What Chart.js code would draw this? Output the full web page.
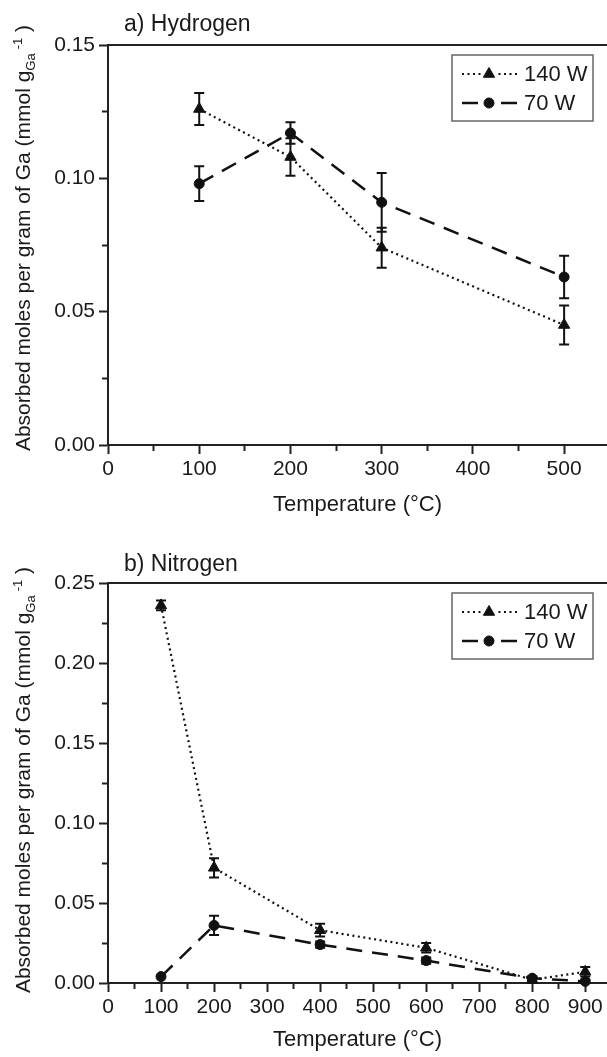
<!DOCTYPE html>
<html>
<head>
<meta charset="utf-8">
<script src="https://cdn.jsdelivr.net/npm/chart.js@4.4.1/dist/chart.umd.min.js"></script>
<style>
  html, body { margin: 0; padding: 0; background: #fff; overflow: hidden; }
  #page { position: relative; width: 607px; height: 1057px; overflow: hidden; font-family: "Liberation Sans", Arial, sans-serif; color: #1a1a1a; }
  .panel { position: absolute; left: 0; width: 607px; }
  .panel canvas { display: block; }
  .ptitle { position: absolute; left: 124px; font-size: 23px; line-height: 23px; white-space: nowrap; }
  .ytitle { position: absolute; left: 22px; font-size: 21px; line-height: 21px; white-space: nowrap; transform: translate(-50%, -50%) rotate(-90deg); }
  .ytitle sub, .ytitle sup { font-size: 13px; line-height: 0; }
  .ytitle sup { margin-left: 4px; }
</style>
</head>
<body>
<div id="page">
  <div class="panel" style="top:0;height:525px"><canvas id="hydrogenChart"></canvas></div>
  <div class="panel" style="top:525px;height:532px"><canvas id="nitrogenChart"></canvas></div>
  <div class="ptitle" style="top:12px">a) Hydrogen</div>
  <div class="ptitle" style="top:552px">b) Nitrogen</div>
  <div class="ytitle" style="top:238px">Absorbed moles per gram of Ga (mmol g<sub>Ga</sub><sup>-1</sup> )</div>
  <div class="ytitle" style="top:780px">Absorbed moles per gram of Ga (mmol g<sub>Ga</sub><sup>-1</sup> )</div>
</div>
<script>
const seriesLabels = ["140 W", "70 W"];
const xTitle = "Temperature (°C)";

// a) Hydrogen
const tempH = [100, 200, 300, 500];
const h140 = [0.126, 0.108, 0.074, 0.045];
const h140Err = [0.006, 0.007, 0.0075, 0.0073];
const h70 = [0.098, 0.117, 0.091, 0.063];
const h70Err = [0.0065, 0.004, 0.011, 0.008];

// b) Nitrogen
const tempN = [100, 200, 400, 600, 800, 900];
const n140 = [0.236, 0.072, 0.033, 0.022, 0.002, 0.007];
const n140Err = [0.003, 0.006, 0.004, 0.003, 0.002, 0.003];
const n70 = [0.004, 0.036, 0.024, 0.014, 0.003, 0.001];
const n70Err = [0, 0.006, 0.002, 0.002, 0.001, 0.001];

const INK = "#1a1a1a";
const FONT = '"Liberation Sans", Arial, sans-serif';

const errorBars = {
  id: "errorBars",
  afterDatasetsDraw(chart) {
    const ctx = chart.ctx;
    const xs = chart.scales.x, ys = chart.scales.y;
    ctx.save();
    ctx.strokeStyle = "#111";
    ctx.lineWidth = 2;
    ctx.setLineDash([]);
    chart.data.datasets.forEach(ds => {
      ds.data.forEach((p, i) => {
        const e = ds.errors[i];
        if (!e) return;
        const x = xs.getPixelForValue(p.x);
        const y1 = ys.getPixelForValue(p.y + e);
        const y2 = ys.getPixelForValue(p.y - e);
        ctx.beginPath();
        ctx.moveTo(x, y1); ctx.lineTo(x, y2);
        ctx.moveTo(x - 5, y1); ctx.lineTo(x + 5, y1);
        ctx.moveTo(x - 5, y2); ctx.lineTo(x + 5, y2);
        ctx.stroke();
      });
    });
    ctx.restore();
  }
};

// boxed legend in the top right corner, line sample on both sides of the marker
const boxLegend = {
  id: "boxLegend",
  afterDraw(chart) {
    const ctx = chart.ctx, area = chart.chartArea;
    const w = 141, h = 66;
    const left = area.right - 14 - w, top = area.top + 10;
    ctx.save();
    ctx.strokeStyle = "#666";
    ctx.lineWidth = 1.5;
    ctx.strokeRect(left, top, w, h);
    chart.data.datasets.forEach((ds, i) => {
      const y = top + 19 + i * 29;
      const mid = left + 37;
      ctx.strokeStyle = ds.borderColor;
      ctx.lineWidth = ds.borderWidth;
      ctx.setLineDash(ds.borderDash);
      ctx.beginPath();
      ctx.moveTo(left + 10, y);
      ctx.lineTo(mid - 6, y);
      ctx.stroke();
      ctx.beginPath();
      ctx.moveTo(left + 65, y);
      ctx.lineTo(mid + 6, y);
      ctx.stroke();
      ctx.setLineDash([]);
      ctx.fillStyle = ds.backgroundColor;
      ctx.lineWidth = 1;
      Chart.helpers.drawPoint(ctx, { pointStyle: ds.pointStyle, radius: ds.pointRadius, borderWidth: 1, rotation: 0 }, mid, y);
      ctx.fillStyle = INK;
      ctx.font = "22px " + FONT;
      ctx.textBaseline = "middle";
      ctx.fillText(ds.label, left + 72, y + 1);
    });
    ctx.restore();
  }
};

function isMajor(v, step) {
  return Math.abs(v / step - Math.round(v / step)) < 1e-6;
}

function buildChart(id, temps, s140, e140, s70, e70, xMax, yMax, padTop, axisHeight, titlePadBottom) {
  return new Chart(document.getElementById(id), {
    type: "line",
    data: {
      datasets: [
        {
          label: seriesLabels[0],
          data: temps.map((t, i) => ({ x: t, y: s140[i] })),
          errors: e140,
          borderColor: "#111",
          backgroundColor: "#111",
          borderWidth: 2.2,
          borderDash: [2, 3.5],
          pointStyle: "triangle",
          pointRadius: 6.5,
          pointBorderWidth: 1,
          tension: 0,
          clip: false
        },
        {
          label: seriesLabels[1],
          data: temps.map((t, i) => ({ x: t, y: s70[i] })),
          errors: e70,
          borderColor: "#111",
          backgroundColor: "#111",
          borderWidth: 2.5,
          borderDash: [16, 10],
          pointStyle: "circle",
          pointRadius: 5,
          pointBorderWidth: 1,
          tension: 0,
          clip: false
        }
      ]
    },
    options: {
      responsive: true,
      maintainAspectRatio: false,
      animation: false,
      layout: { autoPadding: false, padding: { top: padTop, left: 0, right: 0, bottom: 0 } },
      plugins: {
        legend: { display: false },
        tooltip: { enabled: false }
      },
      scales: {
        x: {
          type: "linear",
          position: "bottom",
          min: 0,
          max: xMax,
          afterFit: scale => { scale.height = axisHeight; scale.paddingRight = 0; },
          border: { display: true, color: "#222", width: 2 },
          grid: {
            drawOnChartArea: false,
            tickLength: 9,
            tickColor: "#222",
            tickWidth: 2,
            tickBorderDash: c => isMajor(c.tick.value, 100) ? [] : [5, 100]
          },
          ticks: {
            stepSize: 50,
            includeBounds: false,
            autoSkip: false,
            maxRotation: 0,
            padding: 3,
            color: INK,
            font: { family: FONT, size: 21 },
            callback: v => isMajor(v, 100) ? String(v) : ""
          },
          title: {
            display: true,
            text: xTitle,
            color: INK,
            font: { family: FONT, size: 22 },
            padding: { top: 0, bottom: titlePadBottom }
          }
        },
        x2: {
          type: "linear",
          position: "top",
          min: 0,
          max: 1,
          afterFit: scale => { scale.height = 0; scale.paddingRight = 0; scale.paddingLeft = 0; },
          border: { display: true, color: "#222", width: 2 },
          grid: { display: false, drawTicks: false },
          ticks: { display: false }
        },
        y: {
          min: 0,
          max: yMax,
          afterFit: scale => { scale.width = 108; },
          border: { display: true, color: "#222", width: 2 },
          grid: {
            drawOnChartArea: false,
            tickLength: 9,
            tickColor: "#222",
            tickWidth: 2,
            tickBorderDash: c => isMajor(c.tick.value, 0.05) ? [] : [0, 3, 5, 100]
          },
          ticks: {
            stepSize: 0.025,
            autoSkip: false,
            padding: 4,
            color: INK,
            font: { family: FONT, size: 21 },
            callback: v => isMajor(v, 0.05) ? v.toFixed(2) : ""
          }
        }
      }
    },
    plugins: [errorBars, boxLegend]
  });
}

buildChart("hydrogenChart", tempH, h140, h140Err, h70, h70Err, 547, 0.15, 45, 80, 7);
buildChart("nitrogenChart", tempN, n140, n140Err, n70, n70Err, 941, 0.25, 58, 74, 4);
</script>
</body>
</html>
